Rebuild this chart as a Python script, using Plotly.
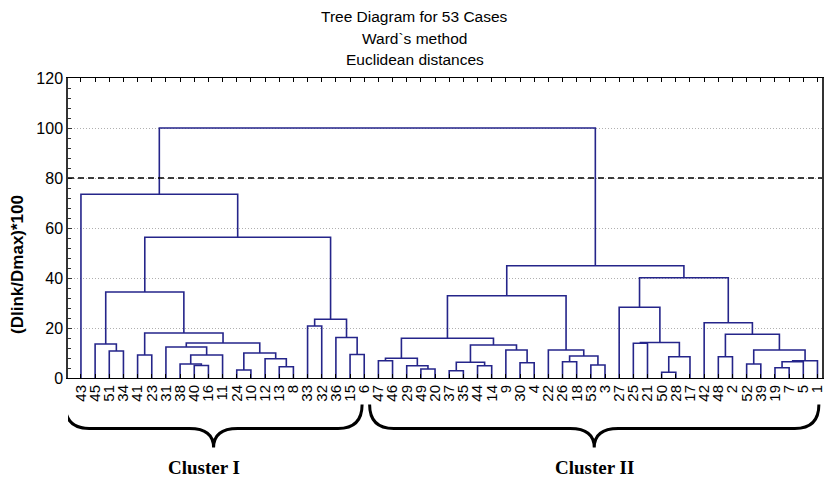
import plotly.graph_objects as go

# Leaf order along the horizontal axis (case numbers)
leaf_order = [43, 45, 51, 34, 41, 23, 31, 38, 40, 16, 11, 24, 10, 12, 13, 8, 33, 32, 36, 15, 6,
              47, 46, 29, 49, 20, 37, 35, 44, 14, 9, 30, 4, 22, 26, 18, 53, 3, 27, 25, 21, 50, 28, 17,
              42, 48, 2, 52, 39, 19, 7, 5, 1]

# Ward linkage steps: name -> (left child, right child, linkage distance (Dlink/Dmax)*100)
# ints are case numbers, strings refer to earlier merges
merges = {
    "i1": (51, 34, 10.8),
    "i2": (45, "i1", 13.6),
    "i3": (41, 23, 9.2),
    "i4": (40, 16, 5.0),
    "i5": (38, "i4", 5.6),
    "i6": ("i5", 11, 9.2),
    "i7": (31, "i6", 12.4),
    "i8": (24, 10, 3.2),
    "i9": (13, 8, 4.5),
    "i10": (12, "i9", 7.7),
    "i11": ("i8", "i10", 10.0),
    "i12": ("i7", "i11", 14.0),
    "i13": ("i3", "i12", 18.0),
    "i14": ("i2", "i13", 34.4),
    "i15": (33, 32, 20.8),
    "i16": (15, 6, 9.4),
    "i17": (36, "i16", 16.2),
    "i18": ("i15", "i17", 23.5),
    "i19": ("i14", "i18", 56.3),
    "I": (43, "i19", 73.5),
    "j1": (47, 46, 6.9),
    "j2": (49, 20, 3.6),
    "j3": (29, "j2", 4.9),
    "j4": ("j1", "j3", 7.9),
    "j5": (37, 35, 2.9),
    "j6": (44, 14, 4.9),
    "j7": ("j5", "j6", 6.3),
    "j8": (30, 4, 6.1),
    "j9": (9, "j8", 11.2),
    "j10": ("j7", "j9", 13.2),
    "j11": ("j4", "j10", 15.9),
    "j12": (26, 18, 6.5),
    "j13": (53, 3, 5.2),
    "j14": ("j12", "j13", 8.8),
    "j15": (22, "j14", 11.2),
    "j16": ("j11", "j15", 32.9),
    "j17": (25, 21, 13.9),
    "j18": (50, 28, 2.3),
    "j19": ("j18", 17, 8.5),
    "j20": ("j17", "j19", 14.2),
    "j21": (27, "j20", 28.3),
    "j22": (48, 2, 8.5),
    "j23": (52, 39, 5.6),
    "j24": (19, 7, 4.1),
    "j25": ("j24", 5, 6.5),
    "j26": ("j25", 1, 6.9),
    "j27": ("j23", "j26", 11.2),
    "j28": ("j22", "j27", 17.5),
    "j29": (42, "j28", 22.1),
    "j30": ("j21", "j29", 40.1),
    "II": ("j16", "j30", 44.9),
    "root": ("I", "II", 100.0),
}

cut_level = 80
clusters = [("Cluster I", 43, 6), ("Cluster II", 47, 1)]   # label, first case, last case

y_ticks = [0, 20, 40, 60, 80, 100, 120]
title_lines = ["Tree Diagram for 53 Cases", "Ward`s method", "Euclidean distances"]

# ---- styling ----
LINK_COLOR = "#25258a"
brace_pad = [(-1.12, -0.15), (-0.62, 0.1)]   # extra width on each side of a brace (leaf units)
label_shift = [-10, 0]                        # horizontal nudge of each cluster caption (px)
PLOT_TOP, PLOT_H = 78, 300                    # plot area in page pixels

# ---- build the dendrogram segments ----
node_x = {c: i for i, c in enumerate(leaf_order)}
node_h = {c: 0.0 for c in leaf_order}
xs, ys = [], []
for name, (a, b, h) in merges.items():
    xa, xb = node_x[a], node_x[b]
    xs += [xa, xa, xb, xb, None]
    ys += [node_h[a], h, h, node_h[b], None]
    node_x[name] = (xa + xb) / 2
    node_h[name] = h

fig = go.Figure()
fig.add_trace(go.Scatter(x=xs, y=ys, mode="lines",
                         line=dict(color=LINK_COLOR, width=1.6),
                         hoverinfo="skip", showlegend=False))

# cut line
fig.add_shape(type="line", xref="paper", yref="y", x0=0, x1=1, y0=cut_level, y1=cut_level,
              line=dict(color="black", width=1.4, dash="6px,4px"), layer="above")

# braces under the case labels
y_top, y_mid, y_tip = -0.088, -0.168, -0.232
for (label, first, last), (pl, pr), shift in zip(clusters, brace_pad, label_shift):
    x0 = node_x[first] + pl
    x1 = node_x[last] + pr
    xc = (x0 + x1) / 2
    r = 1.7
    path = (f"M {x0},{y_top} Q {x0},{y_mid} {x0 + r},{y_mid} "
            f"L {xc - r},{y_mid} Q {xc},{y_mid} {xc},{y_tip} "
            f"Q {xc},{y_mid} {xc + r},{y_mid} "
            f"L {x1 - r},{y_mid} Q {x1},{y_mid} {x1},{y_top}")
    fig.add_shape(type="path", path=path, xref="x", yref="paper",
                  line=dict(color="black", width=3))
    fig.add_annotation(x=xc, y=-0.297, xref="x", yref="paper", text=f"<b>{label}</b>",
                       showarrow=False, yanchor="middle", xshift=shift,
                       font=dict(family="Liberation Serif", size=19, color="black"))

# title lines, positioned in pixels from the top of the page
for i, line in enumerate(title_lines):
    px = 17 + 21 * i
    fig.add_annotation(x=0.46, y=1 + (PLOT_TOP - px) / PLOT_H, xref="paper", yref="paper",
                       text=line, showarrow=False, yanchor="middle", xanchor="center",
                       font=dict(family="Liberation Sans", size=15.5, color="black"))

fig.add_annotation(x=0, y=0.377, xref="paper", yref="paper", xshift=-50,
                   text="<b>(Dlink/Dmax)*100</b>", textangle=-90, showarrow=False,
                   xanchor="center", yanchor="middle",
                   font=dict(family="Liberation Sans", size=17, color="black"))

fig.update_layout(
    width=831, height=484,
    margin=dict(l=68, r=6, t=78, b=106),
    paper_bgcolor="white", plot_bgcolor="white",
    font=dict(family="Liberation Sans", color="black"),
    xaxis=dict(range=[-0.914, 52.32], tickmode="array",
               tickvals=list(range(len(leaf_order))),
               ticktext=[str(c) for c in leaf_order], tickangle=-90,
               tickfont=dict(size=15), ticks="inside", ticklen=4, tickcolor="black",
               showgrid=False, zeroline=False, showline=True, linecolor="black",
               linewidth=1, mirror="ticks"),
    yaxis=dict(range=[0, 120], tickvals=y_ticks, tickfont=dict(size=16),
               ticks="inside", ticklen=4, tickcolor="#333", showline=True,
               linecolor="#333", linewidth=1.5, mirror=True,
               showgrid=True, gridcolor="#b0b0b0", griddash="1px,2px", gridwidth=1,
               zeroline=False,
               minor=dict(dtick=4, ticks="inside", ticklen=3, tickcolor="#333", showgrid=False)),
)

fig.write_html("out.html")
